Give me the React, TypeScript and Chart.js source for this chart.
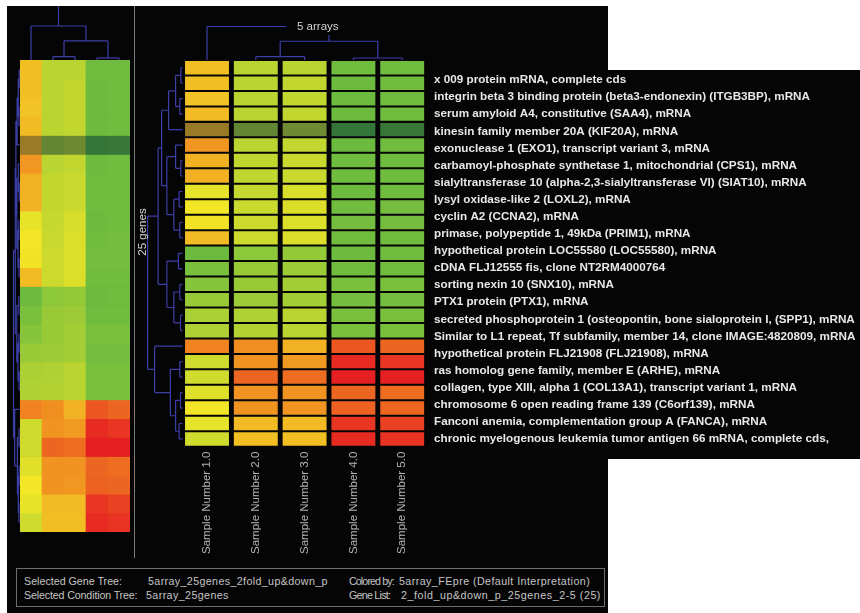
import React, { useEffect, useRef } from 'react';
import { Chart, registerables } from 'chart.js';
Chart.register(...registerables);

// ---------------- data ----------------
const sampleNames = ['Sample Number 1.0', 'Sample Number 2.0', 'Sample Number 3.0', 'Sample Number 4.0', 'Sample Number 5.0'];

const geneNames = [
  'x 009 protein mRNA, complete cds',
  'integrin beta 3 binding protein (beta3-endonexin) (ITGB3BP), mRNA',
  'serum amyloid A4, constitutive (SAA4), mRNA',
  'kinesin family member 20A (KIF20A), mRNA',
  'exonuclease 1 (EXO1), transcript variant 3, mRNA',
  'carbamoyl-phosphate synthetase 1, mitochondrial (CPS1), mRNA',
  'sialyltransferase 10 (alpha-2,3-sialyltransferase VI) (SIAT10), mRNA',
  'lysyl oxidase-like 2 (LOXL2), mRNA',
  'cyclin A2 (CCNA2), mRNA',
  'primase, polypeptide 1, 49kDa (PRIM1), mRNA',
  'hypothetical protein LOC55580 (LOC55580), mRNA',
  'cDNA FLJ12555 fis, clone NT2RM4000764',
  'sorting nexin 10 (SNX10), mRNA',
  'PTX1 protein (PTX1), mRNA',
  'secreted phosphoprotein 1 (osteopontin, bone sialoprotein I, (SPP1), mRNA',
  'Similar to L1 repeat, Tf subfamily, member 14, clone IMAGE:4820809, mRNA',
  'hypothetical protein FLJ21908 (FLJ21908), mRNA',
  'ras homolog gene family, member E (ARHE), mRNA',
  'collagen, type XIII, alpha 1 (COL13A1), transcript variant 1, mRNA',
  'chromosome 6 open reading frame 139 (C6orf139), mRNA',
  'Fanconi anemia, complementation group A (FANCA), mRNA',
  'chronic myelogenous leukemia tumor antigen 66 mRNA, complete cds,',
];

// expression per sample for the 25 genes (-1 = green, 0 = yellow, +1 = red)
const sample1Values = [0.22, 0.22, 0.2, 0.25, 0.3, 0.45, 0.3, 0.3, -0.05, 0.0, 0.02, 0.25, -0.62, -0.55, -0.48, -0.4, -0.32, -0.3, 0.55, -0.15, -0.15, -0.08, 0.0, -0.05, -0.15];
const sample2Values = [-0.25, -0.25, -0.25, -0.25, -0.45, -0.25, -0.22, -0.22, -0.2, -0.18, -0.17, -0.17, -0.45, -0.4, -0.4, -0.38, -0.3, -0.28, 0.5, 0.47, 0.68, 0.47, 0.47, 0.25, 0.22];
const sample3Values = [-0.25, -0.22, -0.22, -0.22, -0.35, -0.22, -0.18, -0.18, -0.12, -0.1, -0.1, -0.1, -0.42, -0.38, -0.35, -0.35, -0.25, -0.25, 0.3, 0.43, 0.65, 0.47, 0.45, 0.25, 0.22];
const sample4Values = [-0.6, -0.62, -0.62, -0.62, -0.9, -0.62, -0.6, -0.6, -0.62, -0.6, -0.58, -0.6, -0.62, -0.6, -0.55, -0.58, -0.55, -0.55, 0.75, 0.95, 1.0, 0.68, 0.7, 0.9, 0.95];
const sample5Values = [-0.6, -0.6, -0.6, -0.6, -0.85, -0.6, -0.6, -0.6, -0.6, -0.58, -0.58, -0.6, -0.6, -0.6, -0.55, -0.58, -0.55, -0.55, 0.68, 0.9, 1.0, 0.65, 0.68, 0.85, 0.92];
// confidence of each gene row (low confidence rows are drawn dimmed)
const rowTrust = [1, 1, 1, 1, 0.55, 1, 1, 1, 1, 1, 1, 1, 1, 1, 1, 1, 1, 1, 1, 1, 1, 1, 1, 1, 1];

// dendrograms: [height, left, right], leaves = index
type TreeNode = number | [number, TreeNode, TreeNode];
const colTree: TreeNode = [1.0, 0, [0.56, [0.1, 1, 2], [0.06, 3, 4]]];
const rowTree: TreeNode = [1.0,
  [0.7,
    [0.6,
      [0.4, [0.2, [0.05, 0, 1], [0.08, 2, 3]], 4],
      [0.45, [0.2, 5, [0.05, 6, 7]], [0.25, [0.1, 8, 9], [0.08, 10, 11]]]],
    [0.45, [0.12, 12, 13], [0.25, [0.08, 14, 15], [0.06, 16, 17]]]],
  [0.8, 18, [0.35, [0.08, 19, 20], [0.2, [0.06, 21, 22], [0.1, 23, 24]]]]];

// ---------------- helpers ----------------
const sampleValues = [sample1Values, sample2Values, sample3Values, sample4Values, sample5Values];
const FONT = '"Liberation Sans", Arial, Helvetica, sans-serif';
const DENDRO = '#3c3fa8';
const COLOR_STOPS: [number, number[]][] = [
  [-1, [40, 160, 70]],
  [-0.5, [130, 195, 60]],
  [0, [242, 230, 38]],
  [0.5, [241, 142, 32]],
  [1, [230, 32, 34]],
];
const DIM = [45, 55, 45];

function valueColor(v: number, trust: number): string {
  let c = COLOR_STOPS[COLOR_STOPS.length - 1][1];
  if (v <= COLOR_STOPS[0][0]) c = COLOR_STOPS[0][1];
  else {
    for (let i = 0; i < COLOR_STOPS.length - 1; i++) {
      const [v0, c0] = COLOR_STOPS[i];
      const [v1, c1] = COLOR_STOPS[i + 1];
      if (v <= v1) {
        const t = (v - v0) / (v1 - v0);
        c = c0.map((x, k) => x + (c1[k] - x) * t);
        break;
      }
    }
  }
  const out = c.map((x, k) => Math.round(x * trust + DIM[k] * (1 - trust)));
  return `rgb(${out.join(',')})`;
}

function buildDatasets(gap: number, barPct: number) {
  return rowTrust.map((trust, r) => ({
    label: `gene ${r + 1}`,
    data: sampleValues.map(() => [r + gap, r + 1 - gap]),
    backgroundColor: sampleValues.map((vals) => valueColor(vals[r], trust)),
    borderWidth: 0,
    grouped: false,
    barPercentage: barPct,
    categoryPercentage: 1,
  }));
}

function drawTree(
  ctx: CanvasRenderingContext2D,
  node: TreeNode,
  leafPos: (i: number) => number,
  levelPos: (h: number) => number,
  rows: boolean
): { p: number; l: number } {
  if (typeof node === 'number') return { p: leafPos(node), l: levelPos(0) };
  const [h, a, b] = node;
  const A = drawTree(ctx, a, leafPos, levelPos, rows);
  const B = drawTree(ctx, b, leafPos, levelPos, rows);
  const L = levelPos(h);
  const pt = (p: number, l: number): [number, number] => (rows ? [l, p] : [p, l]);
  const seg = (p1: number, l1: number, p2: number, l2: number) => {
    const s = pt(p1, l1), e = pt(p2, l2);
    ctx.moveTo(s[0], s[1]);
    ctx.lineTo(e[0], e[1]);
  };
  seg(A.p, A.l, A.p, L);
  seg(B.p, B.l, B.p, L);
  seg(A.p, L, B.p, L);
  return { p: (A.p + B.p) / 2, l: L };
}

const mainDecor = {
  id: 'mainDecor',
  afterDraw(chart: any) {
    const { ctx, chartArea, scales } = chart;
    ctx.save();
    ctx.strokeStyle = DENDRO;
    ctx.lineWidth = 1.2;
    ctx.beginPath();
    drawTree(ctx, colTree, (i) => scales.x.getPixelForValue(i), (h) => chartArea.top - h * 33.5, false);
    drawTree(ctx, rowTree, (i) => scales.y.getPixelForValue(i + 0.5), (h) => chartArea.left - h * 35, true);
    ctx.stroke();
    // "5 arrays" label over the condition tree
    const tx = chartArea.left + 114.4;
    ctx.fillStyle = '#050505';
    ctx.fillRect(tx - 11, 12, 58, 17);
    ctx.fillStyle = '#d4d4d4';
    ctx.font = `11.5px ${FONT}`;
    ctx.textAlign = 'left';
    ctx.textBaseline = 'middle';
    ctx.fillText('5 arrays', tx, 20.5);
    // "25 genes"
    ctx.translate(chartArea.left - 39.6, 226);
    ctx.rotate(-Math.PI / 2);
    ctx.textAlign = 'center';
    ctx.fillText('25 genes', 0, 0);
    ctx.restore();
  },
};

const overviewDecor = {
  id: 'overviewDecor',
  afterDraw(chart: any) {
    const { ctx, chartArea, scales } = chart;
    ctx.save();
    ctx.strokeStyle = DENDRO;
    ctx.lineWidth = 1.2;
    ctx.beginPath();
    const root = drawTree(ctx, colTree, (i) => scales.x.getPixelForValue(i), (h) => chartArea.top - h * 34, false);
    ctx.moveTo(root.p, root.l);
    ctx.lineTo(root.p, 0);
    drawTree(ctx, rowTree, (i) => scales.y.getPixelForValue(i + 0.5), (h) => chartArea.left - 0.5 - h * 6, true);
    ctx.stroke();
    ctx.restore();
  },
};

export default function App() {
  const mainRef = useRef<HTMLCanvasElement>(null);
  const overRef = useRef<HTMLCanvasElement>(null);
  const labelRef = useRef<HTMLCanvasElement>(null);

  useEffect(() => {
    const common = {
      animation: false as const,
      responsive: false,
      events: [] as any[],
    };
    const main = new Chart(mainRef.current!, {
      type: 'bar',
      data: { labels: sampleNames, datasets: buildDatasets(0.065, 0.9) as any },
      options: {
        ...common,
        layout: { padding: { left: 46.6, right: 13.4, top: 54, bottom: 9.3 } },
        plugins: { legend: { display: false }, tooltip: { enabled: false }, title: { display: false } },
        scales: {
          x: {
            type: 'category',
            offset: true,
            grid: { display: false, drawTicks: false },
            border: { display: false },
            ticks: {
              color: '#b4b4b4',
              font: { family: FONT, size: 11.5 },
              minRotation: 90,
              maxRotation: 90,
              autoSkip: false,
              padding: 5,
            },
            afterFit: (s: any) => { s.height = 110; },
          },
          y: { type: 'linear', min: 0, max: 25, reverse: true, display: false },
        },
      },
      plugins: [mainDecor],
    } as any);

    const over = new Chart(overRef.current!, {
      type: 'bar',
      data: { labels: sampleNames, datasets: buildDatasets(0, 1) as any },
      options: {
        ...common,
        layout: { padding: { left: 13, right: 3, top: 54, bottom: 4 } },
        plugins: { legend: { display: false }, tooltip: { enabled: false } },
        scales: {
          x: { type: 'category', offset: true, display: false },
          y: { type: 'linear', min: 0, max: 25, reverse: true, display: false },
        },
      },
      plugins: [overviewDecor],
    } as any);

    const labels = new Chart(labelRef.current!, {
      type: 'bar',
      data: { labels: geneNames, datasets: [{ label: 'genes', data: [] }] },
      options: {
        ...common,
        indexAxis: 'y',
        layout: { padding: { left: 7, right: 0, top: 11.45, bottom: 12.4 } },
        plugins: { legend: { display: false }, tooltip: { enabled: false } },
        scales: {
          x: { type: 'linear', display: false, min: 0, max: 1 },
          y: {
            type: 'category',
            offset: true,
            grid: { display: false, drawTicks: false },
            border: { display: false },
            ticks: {
              mirror: true,
              padding: 0,
              autoSkip: false,
              color: '#e8e8e8',
              font: { family: FONT, size: 11.7, weight: 'bold' },
            },
          },
        },
      },
    } as any);

    return () => {
      main.destroy();
      over.destroy();
      labels.destroy();
    };
  }, []);

  const info = (text: string, left: number, top: number, spacing: number) => (
    <div style={{ position: 'absolute', left, top, fontSize: 10.7, lineHeight: '14px', letterSpacing: spacing, color: '#c4c4c4', whiteSpace: 'nowrap', fontFamily: FONT }}>
      {text}
    </div>
  );

  return (
    <div style={{ position: 'absolute', left: 0, top: 0, width: 860, height: 613, background: '#ffffff', overflow: 'hidden', fontFamily: FONT }}>
      <div style={{ position: 'absolute', left: 7, top: 6, width: 601, height: 607, background: '#050505' }} />
      <div style={{ position: 'absolute', left: 427, top: 70, width: 433, height: 389, background: '#050505' }} />
      <canvas ref={labelRef} width={433} height={400} style={{ position: 'absolute', left: 427, top: 60, width: 433, height: 400 }} />
      <div style={{ position: 'absolute', left: 134, top: 6, width: 1, height: 552, background: '#7c7c7c' }} />
      <canvas ref={overRef} width={126} height={530} style={{ position: 'absolute', left: 7, top: 6, width: 126, height: 530 }} />
      <canvas ref={mainRef} width={304} height={560} style={{ position: 'absolute', left: 136, top: 6, width: 304, height: 560 }} />
      <div style={{ position: 'absolute', left: 16, top: 568, width: 589, height: 39, border: '1px solid #6e6e6e', boxSizing: 'border-box' }} />
      {info('Selected Gene Tree:', 24, 574, 0)}
      {info('5array_25genes_2fold_up&down_p', 148, 574, 0.37)}
      {info('Colored by:', 349, 574, -0.9)}
      {info('5array_FEpre (Default Interpretation)', 399, 574, 0.43)}
      {info('Selected Condition Tree:', 24, 588, -0.15)}
      {info('5array_25genes', 146, 588, 0.4)}
      {info('Gene List:', 349, 588, -0.75)}
      {info('2_fold_up&down_p_25genes_2-5 (25)', 401, 588, 0.55)}
    </div>
  );
}
